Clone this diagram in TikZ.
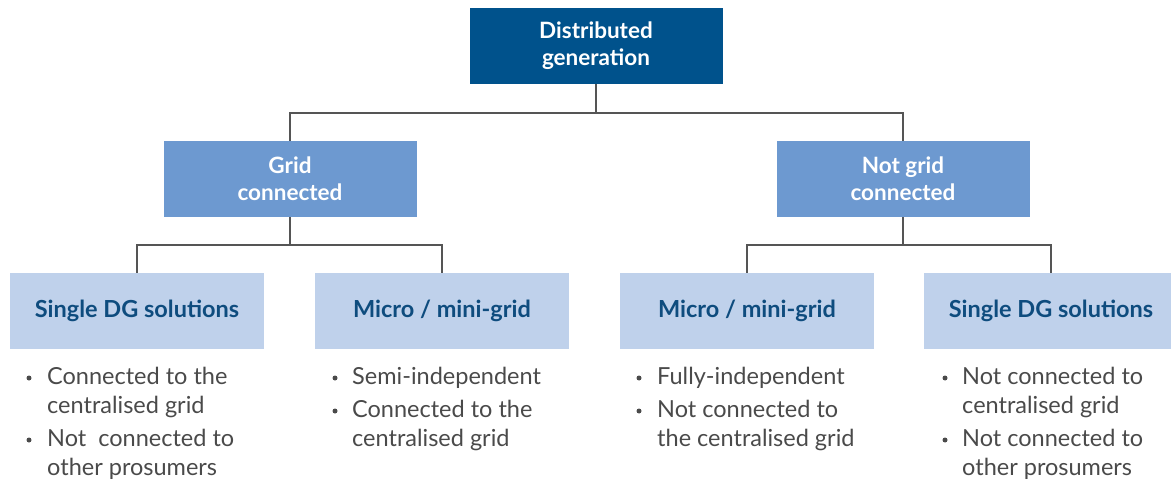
\documentclass[tikz,border=0pt]{standalone}
\usepackage{fontspec}
\setmainfont{Lato}
\definecolor{dkblue}{HTML}{00528C}
\definecolor{mdblue}{HTML}{6D99D0}
\definecolor{ltblue}{HTML}{BFD1EB}
\definecolor{hdtext}{HTML}{0E4C7E}
\definecolor{bltext}{HTML}{4A4A4A}
\definecolor{lncol}{HTML}{555555}
\begin{document}
\begin{tikzpicture}[x=1pt,y=-1pt,
  topbox/.style={fill=dkblue,minimum width=253pt,minimum height=76pt,inner sep=0pt,text=white,font=\fontsize{22.5}{27}\selectfont\bfseries,align=center},
  midbox/.style={fill=mdblue,minimum width=253pt,minimum height=76pt,inner sep=0pt,text=white,font=\fontsize{22.5}{27}\selectfont\bfseries,align=center},
  lowbox/.style={fill=ltblue,minimum width=254pt,minimum height=76pt,inner sep=0pt,text=hdtext,font=\fontsize{23.5}{27}\selectfont\bfseries,align=center},
  item/.style={anchor=base west,inner sep=0pt,text=bltext,font=\fontsize{23.5}{29}\selectfont},
  dot/.style={circle,fill=bltext,inner sep=0pt,minimum size=5pt},
  conn/.style={draw=lncol,line width=2pt}]
\useasboundingbox (0,0) rectangle (1171,484);
\clip (0,0) rectangle (1171,484);
\node[topbox] (dg) at (596,46) {Distributed\\generation};
\node[midbox] (gc) at (290,179) {Grid\\connected};
\node[midbox] (ngc) at (903,179) {Not grid\\connected};
\node[lowbox] (s1) at (137,311) {Single DG solutions};
\node[lowbox] (m1) at (442,311) {Micro / mini-grid};
\node[lowbox] (m2) at (747,311) {Micro / mini-grid};
\node[lowbox] (s2) at (1051,311) {Single DG solutions};
\draw[conn] (dg.south) -- ++(0,29) -| (gc.north);
\draw[conn] (dg.south) -- ++(0,29) -| (ngc.north);
\draw[conn] (gc.south) -- ++(0,28) -| (s1.north);
\draw[conn] (gc.south) -- ++(0,28) -| (m1.north);
\draw[conn] (ngc.south) -- ++(0,28) -| (m2.north);
\draw[conn] (ngc.south) -- ++(0,28) -| (s2.north);
% column 1
\node[dot] (b11) at (29,378) {};
\node[item] (t11a) at (47,384) {Connected to the};
\node[item] (t11b) at (47,413) {centralised grid};
\node[dot] (b12) at (29,440) {};
\node[item] (t12a) at (47,446) {Not\ \ connected to};
\node[item] (t12b) at (47,475) {other prosumers};
% column 2
\node[dot] (b21) at (335,378) {};
\node[item] (t21) at (352,384) {Semi-independent};
\node[dot] (b22) at (335,411) {};
\node[item] (t22a) at (352,417) {Connected to the};
\node[item] (t22b) at (352,446) {centralised grid};
% column 3
\node[dot] (b31) at (639,378) {};
\node[item] (t31) at (657,384) {Fully-independent};
\node[dot] (b32) at (639,411) {};
\node[item] (t32a) at (657,417) {Not connected to};
\node[item] (t32b) at (657,446) {the centralised grid};
% column 4
\node[dot] (b41) at (945,378) {};
\node[item] (t41a) at (962,384) {Not connected to};
\node[item] (t41b) at (962,413) {centralised grid};
\node[dot] (b42) at (945,440) {};
\node[item] (t42a) at (962,446) {Not connected to};
\node[item] (t42b) at (962,475) {other prosumers};
\end{tikzpicture}
\end{document}
